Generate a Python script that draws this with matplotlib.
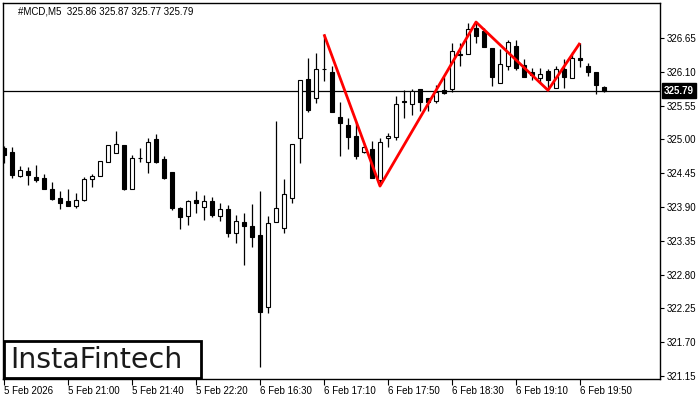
import numpy as np
import matplotlib.pyplot as plt
from matplotlib.patches import Rectangle
from matplotlib.transforms import blended_transform_factory

# OHLC of the M5 candles
opens = [324.86, 324.79, 324.40, 324.49, 324.39, 324.37, 324.19, 324.05, 324.00, 323.92,
         324.01, 324.36, 324.40, 324.63, 324.78, 324.91, 324.19, 324.70, 324.63, 325.01,
         324.68, 324.47, 323.88, 323.75, 324.01, 323.90, 324.00, 323.75, 323.87, 323.48,
         323.66, 323.59, 323.44, 322.27, 323.66, 323.56, 324.05, 325.02, 325.98, 325.67,
         326.15, 326.10, 325.36, 325.23, 325.05, 324.79, 324.84, 324.34, 325.02, 325.04,
         325.62, 325.58, 325.82, 325.67, 325.62, 325.80, 325.82, 326.39, 326.39, 326.81,
         326.76, 326.49, 325.92, 326.19, 326.52, 326.21, 326.10, 326.00, 326.11, 325.84,
         326.15, 326.00, 326.32, 326.19, 326.10, 325.86]
highs = [324.89, 324.88, 324.57, 324.55, 324.58, 324.44, 324.31, 324.16, 324.19, 324.13,
         324.39, 324.44, 324.65, 324.91, 325.14, 324.91, 324.75, 324.86, 325.02, 325.09,
         324.73, 324.47, 323.90, 324.01, 324.16, 324.09, 324.06, 323.96, 323.93, 323.77,
         323.80, 323.95, 324.16, 323.75, 325.30, 324.36, 324.92, 325.97, 326.32, 326.41,
         326.71, 326.19, 325.61, 325.35, 325.28, 324.94, 324.97, 325.02, 325.10, 325.71,
         325.80, 325.82, 325.82, 325.67, 325.88, 326.02, 326.57, 326.57, 326.89, 326.93,
         326.81, 326.49, 326.47, 326.62, 326.62, 326.31, 326.16, 326.16, 326.15, 326.19,
         326.31, 326.42, 326.57, 326.24, 326.10, 325.87]
lows = [324.62, 324.37, 324.38, 324.26, 324.31, 324.19, 324.01, 323.87, 323.92, 323.88,
        324.00, 324.23, 324.40, 324.63, 324.78, 324.18, 324.19, 324.63, 324.45, 324.62,
        324.36, 323.85, 323.54, 323.61, 323.80, 323.69, 323.74, 323.67, 323.41, 323.31,
        322.96, 323.25, 321.30, 322.18, 323.66, 323.48, 323.96, 324.62, 325.45, 325.59,
        325.95, 325.45, 324.73, 324.84, 324.68, 324.78, 324.37, 324.26, 324.88, 324.99,
        325.35, 325.40, 325.46, 325.46, 325.59, 325.74, 325.77, 326.19, 326.39, 326.57,
        326.50, 325.87, 325.92, 326.13, 326.13, 326.02, 325.97, 325.92, 325.80, 325.84,
        325.84, 326.00, 326.18, 326.03, 325.74, 325.77]
closes = [324.75, 324.42, 324.50, 324.42, 324.34, 324.19, 324.03, 323.96, 323.92, 324.01,
          324.36, 324.40, 324.65, 324.91, 324.92, 324.19, 324.70, 324.69, 324.96, 324.63,
          324.37, 323.88, 323.74, 324.00, 323.96, 324.00, 323.77, 323.87, 323.48, 323.67,
          323.59, 323.41, 322.19, 323.64, 323.88, 324.11, 324.92, 325.97, 325.48, 326.15,
          326.14, 325.45, 325.27, 325.04, 324.73, 324.88, 324.37, 324.96, 325.05, 325.58,
          325.61, 325.79, 325.61, 325.61, 325.77, 325.75, 326.44, 326.37, 326.80, 326.68,
          326.50, 326.02, 326.23, 326.58, 326.16, 326.02, 326.05, 326.06, 325.97, 326.15,
          326.02, 326.32, 326.30, 326.10, 325.88, 325.79]

# triple top pattern line (candle index, price)
pattern_idx = [40, 47, 59, 68, 72]
pattern_px = [326.71, 324.24, 326.91, 325.80, 326.57]

last_price = 325.79
y_ticks = [321.15, 321.70, 322.25, 322.80, 323.35, 323.90, 324.45, 325.00, 325.55, 326.10, 326.65]
x_tick_idx = [0, 8, 16, 24, 32, 40, 48, 56, 64, 72]
x_tick_labels = ["5 Feb 2026", "5 Feb 21:00", "5 Feb 21:40", "5 Feb 22:20", "6 Feb 16:30",
                 "6 Feb 17:10", "6 Feb 17:50", "6 Feb 18:30", "6 Feb 19:10", "6 Feb 19:50"]

plt.rcParams['font.family'] = ['Liberation Sans', 'DejaVu Sans']

fig = plt.figure(figsize=(7, 4), dpi=100)
ax = fig.add_axes([3 / 700, 21 / 400, 657 / 700, 376 / 400])

x = np.arange(len(opens))
o = np.array(opens)
c = np.array(closes)
ax.vlines(x, lows, highs, color='black', linewidth=0.9, zorder=2)

body_w = 0.55
for xi, op, cl in zip(x, o, c):
    lo = min(op, cl)
    h = max(abs(cl - op), 0.012)
    face = 'black' if cl < op else 'white'
    ax.add_patch(Rectangle((xi - body_w / 2, lo), body_w, h, facecolor=face,
                           edgecolor='black', linewidth=0.8, zorder=3))

ax.axhline(last_price, color='black', linewidth=0.9, zorder=1)
ax.plot(pattern_idx, pattern_px, color='#ff0000', linewidth=2, zorder=4,
        solid_capstyle='butt')

ax.set_xlim(-0.125, 82)
ax.set_ylim(321.10, 327.22)

ax.yaxis.tick_right()
ax.set_yticks(y_ticks)
ax.set_yticklabels([f"{v:.2f}" for v in y_ticks])
ax.set_xticks(x_tick_idx)
ax.set_xticklabels(x_tick_labels)
for lab in ax.get_xticklabels():
    lab.set_horizontalalignment('left')
ax.tick_params(axis='y', direction='out', length=3, width=0.8, labelsize=7, pad=2)
ax.tick_params(axis='x', direction='out', length=4, width=0.8, labelsize=7, pad=1)
for sp in ax.spines.values():
    sp.set_linewidth(1)
    sp.set_color('black')

# current price tag on the price scale
tr = blended_transform_factory(ax.transAxes, ax.transData)
ax.text(1.006, last_price, f"{last_price:.2f}", transform=tr, color='white', fontsize=7,
        va='center', ha='left', fontweight='bold',
        bbox=dict(boxstyle='square,pad=0.25', facecolor='black', edgecolor='black'),
        zorder=10, clip_on=False)

fig.text(18 / 700, 1 - 12 / 400, "#MCD,M5  325.86 325.87 325.77 325.79", fontsize=7,
         va='center', ha='left')

# logo box
fig.patches.append(Rectangle((4 / 700, 22 / 400), 197 / 700, 37 / 400, transform=fig.transFigure,
                             facecolor='white', edgecolor='black', linewidth=2, zorder=5))
fig.text(10 / 700, 40.5 / 400, "InstaFintech", fontsize=20.5, family='DejaVu Sans',
         va='center', ha='left', color='#1a1a1a', zorder=6)

fig.savefig('out.png', dpi=100)
